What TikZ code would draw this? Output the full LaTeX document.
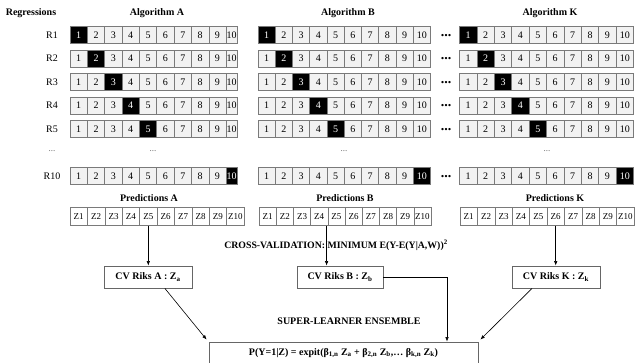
\documentclass[tikz,border=0pt]{standalone}
\usepackage{fontspec}
\setmainfont{Liberation Serif}
\usetikzlibrary{arrows.meta,calc}
\definecolor{cellfill}{HTML}{F2F2F2}
\definecolor{cellline}{HTML}{7A7A7A}
\definecolor{boxline}{HTML}{666666}
\begin{document}
\begin{tikzpicture}[x=1pt,y=-1pt,
  cell/.style={draw=cellline, fill=cellfill, minimum height=17pt, inner sep=0pt, line width=0.6pt, font=\fontsize{10}{10}\selectfont},
  hot/.style={cell, fill=black, text=white},
  zcell/.style={draw=cellline, fill=white, minimum height=17.5pt, inner sep=0pt, line width=0.6pt, font=\fontsize{9}{9}\selectfont},
  ttl/.style={font=\fontsize{10}{12}\selectfont\bfseries, inner sep=0pt},
  rlab/.style={font=\fontsize{10}{12}\selectfont, inner sep=0pt},
  gdots/.style={font=\fontsize{9}{10}\selectfont, text=black!60, inner sep=0pt},
  bdots/.style={font=\fontsize{14}{14}\selectfont\bfseries, inner sep=0pt},
  cvbox/.style={draw=boxline, fill=white, line width=0.8pt, minimum width=88pt, minimum height=22pt, inner sep=0pt, font=\fontsize{10}{12}\selectfont\bfseries},
  arr/.style={-{Latex[length=4.5pt,width=3.5pt]}, line width=0.6pt}
]
\useasboundingbox (0,0) rectangle (635,363);

% headers
\node[ttl] (hreg) at (31,13) {Regressions};
\node[ttl] (hA) at (157,13) {Algorithm A};
\node[ttl] (hB) at (348,13) {Algorithm B};
\node[ttl] (hK) at (550,13) {Algorithm K};

% regression rows
\foreach \r/\y in {1/35, 2/58.5, 3/82, 4/105.5, 5/129, 10/176} {
  \node[rlab] (r\r) at (52,\y) {R\r};
  \node[bdots] (dd\r) at (446,\y+0.5) {...};
  \foreach \i in {1,...,10} {
    \ifnum\i=\r \def\st{hot}\else\def\st{cell}\fi
    \ifnum\i=10
      \node[\st, minimum width=11pt] (a\r-\i) at (231.5,\y) {\i};
    \else
      \node[\st, minimum width=17.35pt] (a\r-\i) at ({70+(\i-0.5)*17.35},\y) {\i};
    \fi
    \node[\st, minimum width=17.25pt] (b\r-\i) at ({258+(\i-0.5)*17.25},\y) {\i};
    \node[\st, minimum width=17.4pt] (k\r-\i) at ({459.5+(\i-0.5)*17.4},\y) {\i};
  }
}
% middle dots row
\node[gdots] (md0) at (52,151) {...};
\node[gdots] (mdA) at (153,151) {...};
\node[gdots] (mdB) at (344,151) {...};
\node[gdots] (mdK) at (547,151) {...};

% predictions
\node[ttl] (pA) at (149,198) {Predictions A};
\node[ttl] (pB) at (345,198) {Predictions B};
\node[ttl] (pK) at (555,198) {Predictions K};
\foreach \i in {1,...,10} {
  \node[zcell, minimum width=17.4pt] (az\i) at ({70+(\i-0.5)*17.4},216.5) {Z\i};
  \node[zcell, minimum width=17.2pt] (bz\i) at ({259+(\i-0.5)*17.2},216.5) {Z\i};
  \node[zcell, minimum width=17.4pt] (kz\i) at ({460+(\i-0.5)*17.4},216.5) {Z\i};
}

% cross-validation text
\node[font=\fontsize{9.8}{12}\selectfont\bfseries, inner sep=0pt] (cvt) at (336,245) {CROSS-VALIDATION: MINIMUM E(Y-E(Y|A,W))\textsuperscript{2}};

% CV boxes
\node[cvbox] (cva) at (148,277) {CV Riks A : Z\textsubscript{a}};
\node[cvbox, minimum width=86pt] (cvb) at (340,277) {CV Riks B : Z\textsubscript{b}};
\node[cvbox] (cvk) at (556,277) {CV Riks K : Z\textsubscript{k}};

% super learner
\node[ttl] (sl) at (349,321) {SUPER-LEARNER ENSEMBLE};

% formula box
\node[draw=boxline, fill=white, line width=0.8pt, minimum width=269pt, minimum height=22pt, inner sep=0pt, font=\fontsize{10}{12}\selectfont\bfseries] (f) at (343.5,353)
  {P(Y=1|Z) = expit(β\textsubscript{1,n} Z\textsubscript{a} + β\textsubscript{2,n} Z\textsubscript{b},… β\textsubscript{k,n} Z\textsubscript{k})};

% arrows
\draw[arr] (az5.south) -- (az5.south |- cva.north);
\draw[arr] ([xshift=-1.5pt]bz4.south east) -- ([xshift=-1.5pt]bz4.south east |- cvb.north);
\draw[arr] (kz6.south) -- (kz6.south |- cvk.north);
\draw[arr] ($(cva.south west)!0.69!(cva.south east)$) -- ($(f.north west)+(-2,-2)$);
\draw[arr] ($(cvk.south west)!0.23!(cvk.south east)$) -- ($(f.north east)+(2,-2)$);
\coordinate (bd) at (447,300);
\draw[arr] (cvb.east) -| (bd |- f.north);
\end{tikzpicture}
\end{document}
